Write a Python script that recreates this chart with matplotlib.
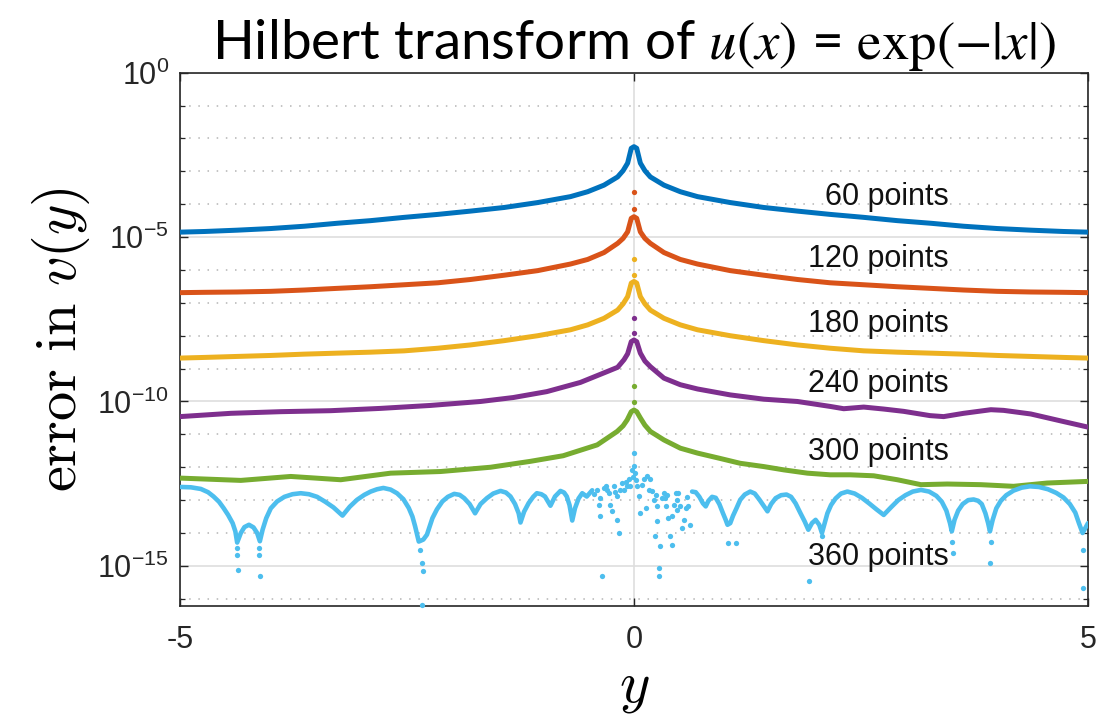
import numpy as np
import matplotlib
matplotlib.use("Agg")
import matplotlib.pyplot as plt
from matplotlib.ticker import FixedLocator, NullFormatter

plt.rcParams["axes.unicode_minus"] = False

# ---- data: log10 of the error in v(y) for each grid size ----
x_sym = [-5.00, -4.73, -4.37, -4.00, -3.63, -3.27, -2.90, -2.53, -2.16, -1.80, -1.43,
         -1.06, -0.70, -0.51, -0.33, -0.18, -0.12, -0.07, -0.03, 0.00, 0.03, 0.07, 0.12,
         0.18, 0.33, 0.51, 0.70, 1.06, 1.43, 1.80, 2.16, 2.53, 2.90, 3.27, 3.63, 4.00,
         4.37, 4.73, 5.00]

err60 = [-4.85, -4.83, -4.79, -4.74, -4.67, -4.58, -4.50, -4.40, -4.31, -4.21, -4.10,
         -3.95, -3.77, -3.62, -3.42, -3.17, -2.98, -2.75, -2.30, -2.25, -2.30, -2.75, -2.98,
         -3.17, -3.42, -3.62, -3.77, -3.95, -4.10, -4.21, -4.31, -4.40, -4.50, -4.58, -4.67,
         -4.74, -4.79, -4.83, -4.85]

err120 = [-6.69, -6.68, -6.67, -6.65, -6.61, -6.56, -6.51, -6.45, -6.39, -6.29, -6.16,
          -6.02, -5.82, -5.68, -5.47, -5.19, -5.04, -4.84, -4.43, -4.38, -4.43, -4.84, -5.04,
          -5.19, -5.47, -5.68, -5.82, -6.02, -6.16, -6.29, -6.39, -6.45, -6.51, -6.56, -6.61,
          -6.65, -6.67, -6.68, -6.69]

err180 = [-8.68, -8.66, -8.63, -8.60, -8.56, -8.53, -8.50, -8.46, -8.38, -8.28, -8.15,
          -8.00, -7.82, -7.67, -7.47, -7.22, -7.03, -6.81, -6.40, -6.35, -6.40, -6.81, -7.03,
          -7.22, -7.47, -7.67, -7.82, -8.00, -8.15, -8.28, -8.38, -8.46, -8.50, -8.53, -8.56,
          -8.60, -8.63, -8.66, -8.68]

x240 = [-5.00, -4.44, -3.89, -3.34, -2.79, -2.24, -1.69, -1.33, -0.96, -0.59, -0.295,
        -0.18, -0.11, -0.07, -0.03, 0.00, 0.03, 0.07, 0.12, 0.18, 0.33, 0.51, 0.70, 1.06,
        1.43, 1.80, 2.16, 2.31, 2.53, 2.75, 2.97, 3.26, 3.41, 3.63, 3.93, 4.07, 4.37, 4.73,
        5.00]
err240 = [-10.46, -10.36, -10.31, -10.28, -10.21, -10.12, -10.00, -9.88, -9.70, -9.42, -9.09,
          -8.96, -8.73, -8.55, -8.18, -8.13, -8.18, -8.53, -8.77, -8.94, -9.29, -9.49, -9.62,
          -9.80, -9.93, -10.00, -10.15, -10.22, -10.17, -10.23, -10.30, -10.43, -10.46, -10.36,
          -10.25, -10.27, -10.38, -10.61, -10.78]

x300 = [-5.00, -4.33, -3.78, -3.23, -2.68, -2.13, -1.58, -1.14, -0.78, -0.405, -0.185,
        -0.12, -0.075, -0.03, 0.00, 0.03, 0.07, 0.12, 0.18, 0.33, 0.51, 0.70, 0.93, 1.17,
        1.43, 1.65, 1.91, 2.16, 2.38, 2.64, 2.90, 3.16, 3.45, 3.82, 4.18, 4.55, 5.00]
err300 = [-12.33, -12.40, -12.28, -12.38, -12.18, -12.13, -12.00, -11.82, -11.65, -11.32, -10.91,
          -10.74, -10.56, -10.31, -10.26, -10.31, -10.50, -10.72, -10.91, -11.17, -11.42, -11.57,
          -11.72, -11.88, -11.98, -12.08, -12.18, -12.23, -12.23, -12.26, -12.38, -12.53, -12.51,
          -12.53, -12.58, -12.48, -12.43]

# isolated samples sitting above each cusp at y = 0
peak_x = [0.0, 0.0]
peak120 = [-4.16, -3.63]
peak180 = [-6.15, -5.68]
peak240 = [-7.93, -7.47]
peak300 = [-10.02, -9.54]

# 360 points: round-off level, left and right smooth branches
x360_left = [-4.99, -4.88, -4.77, -4.69, -4.63, -4.57, -4.52, -4.47, -4.42, -4.39, -4.37,
             -4.33, -4.29, -4.24, -4.19, -4.15, -4.12, -4.09, -4.05, -4.00, -3.93, -3.85,
             -3.76, -3.67, -3.58, -3.49, -3.40, -3.31, -3.21, -3.13, -3.05, -2.97, -2.90,
             -2.83, -2.76, -2.68, -2.61, -2.54, -2.48, -2.44, -2.41, -2.37, -2.32, -2.28,
             -2.25, -2.22, -2.17, -2.11, -2.05, -1.98, -1.92, -1.87, -1.81, -1.75, -1.69,
             -1.62, -1.55, -1.47, -1.41, -1.36, -1.31, -1.27, -1.25, -1.21, -1.16, -1.11,
             -1.07, -1.02, -0.98, -0.92, -0.87, -0.81, -0.77, -0.74, -0.71, -0.68, -0.65,
             -0.61, -0.57, -0.52, -0.46]
err360_left = [-12.60, -12.61, -12.66, -12.76, -12.89, -13.05, -13.24, -13.45, -13.70, -13.95,
               -14.29, -14.00, -13.82, -13.75, -13.83, -14.00, -14.25, -13.90, -13.55, -13.25,
               -13.04, -12.90, -12.82, -12.79, -12.82, -12.90, -13.05, -13.22, -13.47, -13.20,
               -12.99, -12.84, -12.74, -12.67, -12.63, -12.68, -12.79, -12.97, -13.24, -13.50,
               -13.80, -14.26, -14.20, -14.05, -13.80, -13.55, -13.28, -13.04, -12.90, -12.81,
               -12.84, -12.94, -13.12, -13.40, -13.12, -12.94, -12.80, -12.72, -12.77, -12.89,
               -13.12, -13.40, -13.68, -13.35, -13.09, -12.90, -12.79, -12.82, -12.89, -13.17,
               -12.89, -12.72, -12.77, -12.89, -13.15, -13.62, -13.25, -12.95, -12.79, -12.89,
               -12.70]

x360_right = [0.64, 0.68, 0.72, 0.76, 0.79, 0.82, 0.86, 0.90, 0.94, 0.98, 1.01, 1.03, 1.06,
              1.09, 1.13, 1.17, 1.22, 1.28, 1.33, 1.38, 1.43, 1.47, 1.51, 1.56, 1.62, 1.68,
              1.73, 1.78, 1.83, 1.88, 1.92, 1.96, 2.00, 2.04, 2.07, 2.10, 2.13, 2.17, 2.22,
              2.28, 2.35, 2.43, 2.51, 2.59, 2.67, 2.75, 2.83, 2.91, 2.99, 3.07, 3.16, 3.25,
              3.33, 3.39, 3.44, 3.48, 3.50, 3.53, 3.57, 3.62, 3.68, 3.74, 3.79, 3.83, 3.87,
              3.90, 3.92, 3.95, 3.99, 4.04, 4.10, 4.18, 4.27, 4.36, 4.46, 4.56, 4.65, 4.73,
              4.80, 4.86, 4.90, 4.94, 4.97, 5.00]
err360_right = [-12.74, -12.76, -12.90, -13.10, -13.19, -13.02, -12.90, -12.93, -13.12, -13.40,
                -13.60, -13.75, -13.70, -13.48, -13.24, -12.99, -12.83, -12.74, -12.80, -12.98,
                -13.18, -13.34, -13.12, -12.94, -12.85, -12.83, -12.90, -13.10, -13.38, -13.65,
                -13.90, -13.70, -13.60, -13.75, -14.00, -13.70, -13.40, -13.15, -12.95, -12.80,
                -12.74, -12.80, -12.93, -13.10, -13.28, -13.45, -13.22, -13.00, -12.85, -12.74,
                -12.69, -12.74, -12.87, -13.05, -13.32, -13.70, -13.95, -13.60, -13.32, -13.12,
                -13.00, -12.98, -13.02, -13.12, -13.40, -13.70, -13.95, -13.60, -13.25, -13.02,
                -12.85, -12.71, -12.62, -12.58, -12.60, -12.67, -12.78, -12.92, -13.12, -13.38,
                -13.70, -14.00, -13.85, -13.70]

# 360 points: scattered samples near the origin and below the dips
x360_dots = [-4.37, -4.37, -4.36, -4.13, -4.13, -4.12, -2.36, -2.34, -2.32, -2.33,
             -0.41, -0.37, -0.39, -0.37, -0.35, -0.31, -0.28, -0.26, -0.24, -0.22, -0.19,
             -0.19, -0.17, -0.15, -0.13, -0.11, -0.075, -0.057, -0.04, -0.02, 0.0, 0.0,
             0.016, 0.035, 0.05, 0.07, 0.11, 0.13, 0.145, 0.16, 0.18, 0.20, 0.22, 0.226,
             0.25, 0.255, 0.27, 0.27, 0.29, 0.31, 0.33, 0.35, 0.365, 0.38, 0.40, 0.42, 0.42,
             0.44, 0.46, 0.475, 0.49, 0.51, 0.53, 0.55, 0.57, 0.60, 0.62,
             -0.44, -0.33, -0.30, -0.21, -0.09, -0.01, 0.02, 0.09, 0.24, 0.34, 0.47, 0.58,
             1.03, 1.12, 1.93, 2.07, 3.50, 3.51, 3.93, 3.92, 4.94, 4.95]
err360_dots = [-14.46, -14.66, -15.14, -14.46, -14.66, -15.30, -14.51, -14.92, -15.17, -16.20,
               -12.68, -12.93, -13.14, -13.49, -15.32, -12.58, -12.78, -13.14, -13.34, -12.58,
               -13.60, -12.88, -14.00, -12.68, -12.48, -12.68, -12.58, -12.37, -12.58, -12.07,
               -11.57, -11.97, -12.17, -12.58, -12.88, -13.39, -12.37, -13.24, -12.27, -12.68,
               -12.37, -12.73, -12.99, -14.10, -13.19, -13.65, -15.06, -15.32, -14.41, -12.93,
               -12.78, -13.19, -12.83, -13.54, -14.10, -13.49, -14.36, -13.14, -12.78, -12.99,
               -12.78, -13.19, -13.85, -13.60, -13.24, -13.19, -13.75,
               -12.80, -12.62, -12.70, -12.75, -12.45, -12.30, -12.40, -12.55, -12.85, -12.95,
               -13.30, -12.90,
               -14.31, -14.31, -15.47, -14.10, -14.26, -14.61, -14.26, -14.92, -14.51, -15.67]

labels = ["60 points", "120 points", "180 points", "240 points", "300 points", "360 points"]
label_pos = [-3.78, -5.68, -7.64, -9.47, -11.55, -14.74]

colors = ["#0072BD", "#D95319", "#EDB120", "#7E2F8E", "#77AC30", "#4DBEEE"]

# ---- figure ----
fig = plt.figure(figsize=(11.15, 7.21), dpi=100)
ax = fig.add_axes([0.1614, 0.1595, 0.8144, 0.7397])
ax.set_yscale("log")

def p(v):
    return np.power(10.0, np.asarray(v, dtype=float))

lw = 3.6
kw = dict(solid_capstyle="round", solid_joinstyle="round", zorder=3)
ax.plot(x_sym, p(err60), color=colors[0], lw=lw, **kw)
ax.plot(x_sym, p(err120), color=colors[1], lw=lw, **kw)
ax.plot(x_sym, p(err180), color=colors[2], lw=lw, **kw)
ax.plot(x240, p(err240), color=colors[3], lw=lw, **kw)
ax.plot(x300, p(err300), color=colors[4], lw=lw, **kw)
ax.plot(x360_left, p(err360_left), color=colors[5], lw=3.3, **kw)
ax.plot(x360_right, p(err360_right), color=colors[5], lw=3.3, **kw)

dot = dict(ls="none", marker="o", ms=3.8, mew=0, zorder=3)
ax.plot(peak_x, p(peak120), color=colors[1], **dot)
ax.plot(peak_x, p(peak180), color=colors[2], **dot)
ax.plot(peak_x, p(peak240), color=colors[3], **dot)
ax.plot(peak_x, p(peak300), color=colors[4], **dot)
ax.plot(x360_dots, p(err360_dots), color=colors[5], clip_on=False, **dot)

for txt, yv in zip(labels, label_pos):
    ax.text(3.47, 10.0 ** yv, txt, ha="right", va="center", fontsize=22,
            family=["Liberation Sans", "DejaVu Sans"], color="#111111", zorder=4)

ax.set_xlim(-5, 5)
ax.set_ylim(10.0 ** -16.22, 1.0)

ax.set_xticks([-5, 0, 5])
ax.set_xticklabels(["-5", "0", "5"])
ax.set_yticks([1.0, 1e-5, 1e-10, 1e-15])
ax.set_yticklabels([r"$\mathregular{10^{0}}$", r"$\mathregular{10^{-5}}$",
                    r"$\mathregular{10^{-10}}$", r"$\mathregular{10^{-15}}$"])
minor = [10.0 ** k for k in range(-16, 0) if k % 5 != 0]
ax.yaxis.set_minor_locator(FixedLocator(minor))
ax.yaxis.set_minor_formatter(NullFormatter())
ax.xaxis.set_minor_locator(FixedLocator([]))

for lab in ax.get_xticklabels() + ax.get_yticklabels():
    lab.set_family(["Liberation Sans", "DejaVu Sans"])
    lab.set_fontsize(22)
    lab.set_color("#262626")

ax.tick_params(which="both", direction="in", top=True, right=True, color="#262626")
ax.tick_params(which="major", length=6, width=1.0)
ax.tick_params(which="minor", length=3.5, width=0.9)
ax.tick_params(axis="x", pad=14)
ax.tick_params(axis="y", pad=8)

ax.grid(True, which="major", color="#dedede", lw=1.2, ls="-", zorder=0)
ax.grid(True, which="minor", axis="y", color="#b4b4b4", lw=1.1, ls=(0, (1, 5)), zorder=0)
ax.set_axisbelow(True)

for s in ax.spines.values():
    s.set_color("#262626")
    s.set_linewidth(1.2)

ax.set_xlabel(r"$y$", fontsize=42, math_fontfamily="cm", labelpad=2)
ax.set_ylabel(r"$\mathrm{error\ in}\ v(y)$", fontsize=42, math_fontfamily="cm", labelpad=4)
ax.set_title(r"Hilbert transform of $u(x)$ = $\exp(-|x|)$", fontsize=39.5,
             family=["Lato", "DejaVu Sans"], math_fontfamily="stix", pad=10)

fig.savefig("out.png", dpi=100)
